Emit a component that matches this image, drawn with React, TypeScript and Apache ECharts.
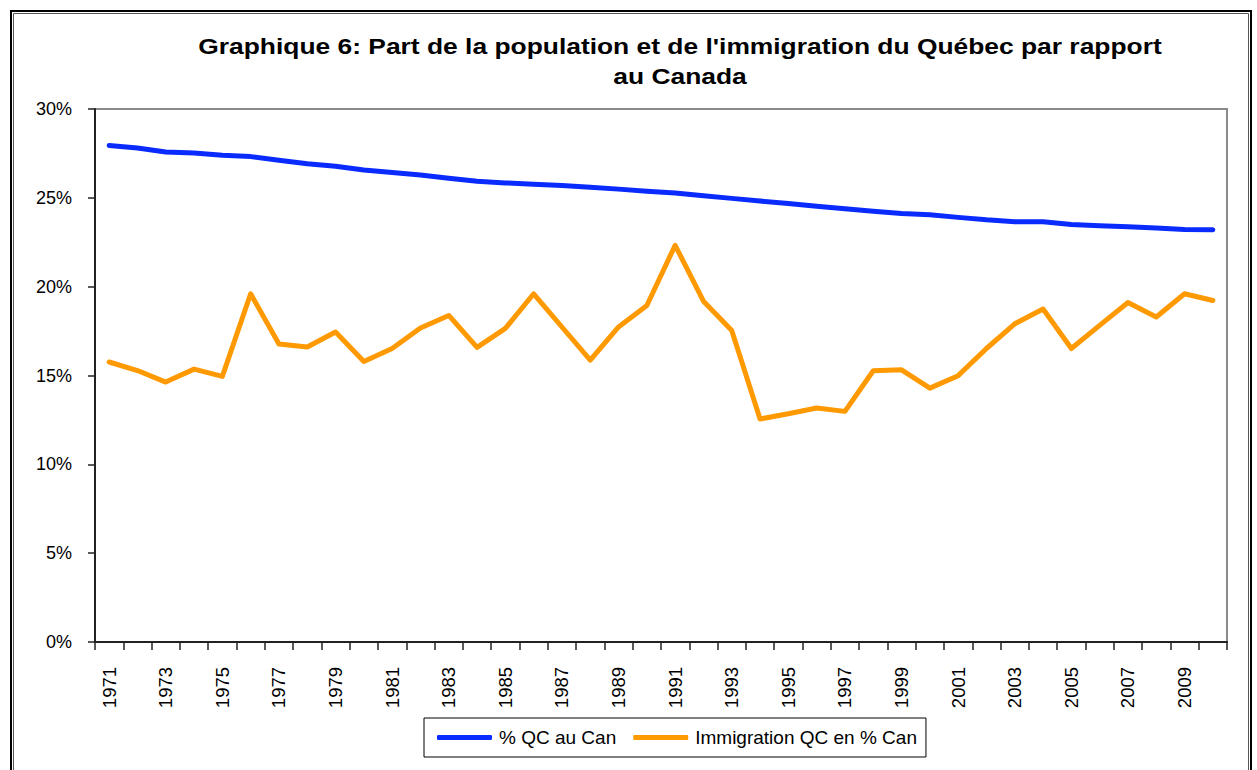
import React, { useEffect, useRef } from "react";
import * as echarts from "echarts";

const years: string[] = [
  "1971", "1972", "1973", "1974", "1975", "1976", "1977", "1978", "1979", "1980",
  "1981", "1982", "1983", "1984", "1985", "1986", "1987", "1988", "1989", "1990",
  "1991", "1992", "1993", "1994", "1995", "1996", "1997", "1998", "1999", "2000",
  "2001", "2002", "2003", "2004", "2005", "2006", "2007", "2008", "2009", "2010",
];

const qcShareOfCanada: number[] = [
  27.95, 27.8, 27.58, 27.52, 27.4, 27.32, 27.12, 26.92, 26.78, 26.57,
  26.42, 26.28, 26.1, 25.93, 25.84, 25.77, 25.7, 25.6, 25.49, 25.37,
  25.27, 25.12, 24.97, 24.82, 24.68, 24.53, 24.38, 24.25, 24.12, 24.05,
  23.9, 23.76, 23.66, 23.65, 23.5, 23.43, 23.37, 23.3, 23.22, 23.2,
];

const immigrationShare: number[] = [
  15.76, 15.28, 14.63, 15.36, 14.95, 19.6, 16.77, 16.6, 17.45, 15.79,
  16.52, 17.67, 18.38, 16.58, 17.65, 19.6, 17.73, 15.87, 17.73, 18.94,
  22.33, 19.18, 17.53, 12.55, 12.85, 13.17, 12.98, 15.27, 15.32, 14.29,
  14.99, 16.52, 17.91, 18.74, 16.52, 17.82, 19.11, 18.29, 19.6, 19.22,
];

const seriesNames: string[] = ["% QC au Can", "Immigration QC en % Can"];
const titleLines: string[] = [
  "Graphique 6: Part de la population et de l'immigration du Québec par rapport",
  "au Canada",
];

const FONT = "'Liberation Sans', Arial, Helvetica, sans-serif";

export default function App() {
  const ref = useRef<HTMLDivElement>(null);

  useEffect(() => {
    if (!ref.current) return;
    const chart = echarts.init(ref.current, undefined, { renderer: "svg" });
    chart.setOption({
      animation: false,
      backgroundColor: "#ffffff",
      textStyle: { fontFamily: FONT },
      grid: {
        left: 95,
        right: 30,
        top: 109,
        bottom: 128,
        show: true,
        borderColor: "#8a8a8a",
        borderWidth: 2,
        backgroundColor: "#ffffff",
      },
      legend: {
        left: 424,
        top: 718,
        orient: "horizontal",
        padding: [10, 9, 10, 13],
        borderColor: "#000000",
        borderWidth: 1,
        itemWidth: 55,
        itemHeight: 5,
        itemGap: 17,
        icon: "roundRect",
        textStyle: {
          fontFamily: FONT,
          fontSize: 19,
          color: "#000000",
          padding: [0, 0, 0, 2],
        },
        data: seriesNames,
      },
      xAxis: {
        type: "category",
        data: years,
        boundaryGap: true,
        axisLine: { show: true, lineStyle: { color: "#222222", width: 2 } },
        axisTick: {
          show: true,
          interval: 0,
          length: 8,
          inside: false,
          lineStyle: { color: "#222222", width: 1.5 },
        },
        axisLabel: {
          interval: 1,
          rotate: 90,
          margin: 25,
          fontSize: 18.5,
          fontFamily: FONT,
          color: "#000000",
        },
        splitLine: { show: false },
      },
      yAxis: {
        type: "value",
        min: 0,
        max: 30,
        interval: 5,
        axisLine: { show: true, lineStyle: { color: "#222222", width: 2 } },
        axisTick: {
          show: true,
          length: 7,
          inside: false,
          lineStyle: { color: "#222222", width: 1.5 },
        },
        axisLabel: {
          formatter: "{value}%",
          margin: 23,
          fontSize: 18,
          fontFamily: FONT,
          color: "#000000",
        },
        splitLine: { show: false },
      },
      series: [
        {
          name: seriesNames[0],
          type: "line",
          data: qcShareOfCanada,
          symbol: "none",
          showSymbol: false,
          color: "#0a2bff",
          lineStyle: { color: "#0a2bff", width: 5, cap: "round", join: "round" },
        },
        {
          name: seriesNames[1],
          type: "line",
          data: immigrationShare,
          symbol: "none",
          showSymbol: false,
          color: "#ff9900",
          lineStyle: { color: "#ff9900", width: 5, cap: "round", join: "round" },
        },
      ],
      graphic: [
        {
          type: "rect",
          silent: true,
          shape: { x: 11, y: 11, width: 1240, height: 800 },
          style: { fill: "none", stroke: "#000000", lineWidth: 2 },
          z: 100,
        },
        {
          type: "rect",
          silent: true,
          shape: { x: 13.5, y: 13.5, width: 1235, height: 800 },
          style: { fill: "none", stroke: "#555555", lineWidth: 1 },
          z: 100,
        },
        {
          type: "text",
          x: 680,
          y: 46,
          scaleX: 1.2,
          scaleY: 1,
          style: {
            text: titleLines[0],
            fontFamily: FONT,
            fontSize: 22,
            fontWeight: "bold",
            fill: "#000000",
            textAlign: "center",
            textVerticalAlign: "middle",
          },
          z: 100,
        },
        {
          type: "text",
          x: 680,
          y: 76,
          scaleX: 1.2,
          scaleY: 1,
          style: {
            text: titleLines[1],
            fontFamily: FONT,
            fontSize: 22,
            fontWeight: "bold",
            fill: "#000000",
            textAlign: "center",
            textVerticalAlign: "middle",
          },
          z: 100,
        },
      ],
    });
    return () => {
      chart.dispose();
    };
  }, []);

  return (
    <div
      ref={ref}
      style={{
        position: "fixed",
        left: 0,
        top: 0,
        width: 1257,
        height: 770,
        background: "#ffffff",
      }}
    />
  );
}
